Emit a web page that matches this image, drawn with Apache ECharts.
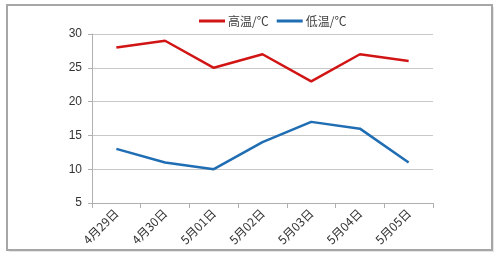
<!DOCTYPE html>
<html><head><meta charset="utf-8">
<script src="https://cdn.jsdelivr.net/npm/echarts@6/dist/echarts.min.js"></script>
<style>html,body{margin:0;padding:0;background:#fff}#c{width:500px;height:255px}</style>
</head><body><div id="c"></div>
<script>
var categories = ['4月29日','4月30日','5月01日','5月02日','5月03日','5月04日','5月05日'];
var highTemps = [28, 29, 25, 27, 23, 27, 26];
var lowTemps = [13, 11, 10, 14, 17, 16, 11];
var chart = echarts.init(document.getElementById('c'));
chart.setOption({
  animation: false,
  graphic: [
    {type:'rect', shape:{x:9, y:7, width:485, height:245}, style:{fill:'#e6e6e6'}, z:-2, silent:true},
    {type:'rect', shape:{x:7, y:5, width:485, height:245}, style:{fill:'#fff', stroke:'#a6a6a6', lineWidth:2}, z:-1, silent:true}
  ],
  legend: {
    top: 10, left: 194, itemWidth: 26, itemHeight: 3, itemGap: 8,
    icon: 'rect',
    textStyle: {fontSize: 12, color: '#404040', fontFamily: 'Noto Sans CJK SC', padding: [0,0,0,-2]},
    data: ['高温/℃','低温/℃']
  },
  grid: {left: 92, right: 67, top: 34, bottom: 52},
  xAxis: {
    type: 'category', data: categories, boundaryGap: true,
    axisLine: {lineStyle: {color: '#b0b0b0', width: 1}},
    axisTick: {show: true, length: 5, lineStyle: {color: '#b0b0b0'}},
    axisLabel: {rotate: 45, fontSize: 12, color: '#333', fontFamily: 'Noto Sans CJK SC', margin: 8}
  },
  yAxis: {
    type: 'value', min: 5, max: 30, interval: 5,
    axisLine: {show: true, lineStyle: {color: '#b0b0b0'}},
    axisTick: {show: true, length: 4, lineStyle: {color: '#b0b0b0'}},
    axisLabel: {fontSize: 12, color: '#333', fontFamily: 'Liberation Sans', margin: 10},
    splitLine: {lineStyle: {color: '#c8c8c8', width: 1}}
  },
  series: [
    {name: '高温/℃', type: 'line', data: highTemps, symbol: 'none', lineStyle: {color: '#d11515', width: 2.5}, itemStyle: {color: '#d11515'}},
    {name: '低温/℃', type: 'line', data: lowTemps, symbol: 'none', lineStyle: {color: '#1f6db3', width: 2.5}, itemStyle: {color: '#1f6db3'}}
  ]
});
</script></body></html>
